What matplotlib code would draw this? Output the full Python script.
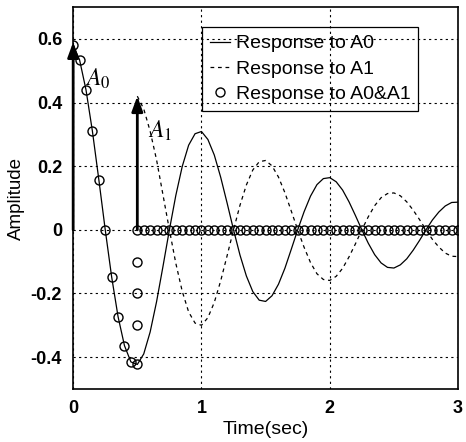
import numpy as np
import matplotlib
matplotlib.use("Agg")
import matplotlib.pyplot as plt

plt.rcParams['font.family'] = ['Liberation Sans', 'DejaVu Sans']
plt.rcParams['mathtext.fontset'] = 'stix'

# sample times (sec), 0.05 s step
t_a0 = [0.00, 0.05, 0.10, 0.15, 0.20, 0.25, 0.30, 0.35, 0.40, 0.45,
        0.50, 0.55, 0.60, 0.65, 0.70, 0.75, 0.80, 0.85, 0.90, 0.95,
        1.00, 1.05, 1.10, 1.15, 1.20, 1.25, 1.30, 1.35, 1.40, 1.45,
        1.50, 1.55, 1.60, 1.65, 1.70, 1.75, 1.80, 1.85, 1.90, 1.95,
        2.00, 2.05, 2.10, 2.15, 2.20, 2.25, 2.30, 2.35, 2.40, 2.45,
        2.50, 2.55, 2.60, 2.65, 2.70, 2.75, 2.80, 2.85, 2.90, 2.95, 3.00]
# response to A0
y_a0 = [0.580, 0.534, 0.440, 0.310, 0.158, 0.000, -0.148, -0.273, -0.364, -0.415,
        -0.423, -0.390, -0.321, -0.226, -0.115, 0.000, 0.108, 0.199, 0.266, 0.302,
        0.309, 0.284, 0.235, 0.165, 0.084, 0.000, -0.079, -0.145, -0.194, -0.221,
        -0.225, -0.207, -0.171, -0.121, -0.061, 0.000, 0.057, 0.106, 0.142, 0.161,
        0.164, 0.151, 0.125, 0.088, 0.045, 0.000, -0.042, -0.078, -0.104, -0.118,
        -0.120, -0.110, -0.091, -0.064, -0.033, 0.000, 0.031, 0.056, 0.075, 0.086, 0.087]

# response to A1 (starts at 0.5 s)
t_a1 = t_a0[10:]
y_a1 = [0.420, 0.380, 0.310, 0.220, 0.110, 0.000, -0.105, -0.193, -0.258, -0.293,
        -0.300, -0.276, -0.228, -0.160, -0.081, 0.000, 0.077, 0.141, 0.188, 0.214,
        0.218, 0.201, 0.166, 0.117, 0.059, 0.000, -0.055, -0.103, -0.138, -0.156,
        -0.159, -0.146, -0.121, -0.085, -0.044, 0.000, 0.041, 0.076, 0.101, 0.114,
        0.116, 0.107, 0.088, 0.062, 0.032, 0.000, -0.030, -0.054, -0.073, -0.083, -0.084]

# response to A0&A1 (circles)
t_sum = t_a0[:11] + [0.50, 0.50, 0.50, 0.50] + t_a0[11:]
y_sum = [0.580, 0.534, 0.440, 0.310, 0.158, 0.000, -0.148, -0.273, -0.364, -0.415,
         -0.423, -0.300, -0.200, -0.100, 0.000] + [0.0] * 50

# impulses
imp_t = [0.0, 0.5]
imp_y = [0.59, 0.42]
imp_lbl = ['$A_0$', '$A_1$']
imp_lbl_pos = [(0.09, 0.475), (0.58, 0.31)]

fig = plt.figure(figsize=(4.66, 4.42), dpi=100)
ax = fig.add_axes([0.157, 0.12, 0.826, 0.864])

ax.plot(t_a0, y_a0, color='black', lw=0.9, label='Response to A0')
ax.plot(t_a1, y_a1, color='black', lw=0.9, linestyle=(0, (3, 3)), label='Response to A1')
ax.plot(t_sum, y_sum, linestyle='none', marker='o', markersize=6.5, markerfacecolor='none',
        markeredgecolor='black', markeredgewidth=1.0, label='Response to A0&A1', zorder=3)

for x, y, s, p in zip(imp_t, imp_y, imp_lbl, imp_lbl_pos):
    ax.annotate('', xy=(x, y), xytext=(x, 0),
                arrowprops=dict(arrowstyle='-|>,head_length=0.6,head_width=0.22',
                                color='black', lw=2, mutation_scale=15,
                                shrinkA=0, shrinkB=0),
                annotation_clip=False)
    ax.text(p[0], p[1], s, fontsize=17, ha='left', va='center')

ax.set_xlim(0, 3)
ax.set_ylim(-0.5, 0.7)
ax.set_xticks([0, 1, 2, 3])
ax.set_yticks([-0.4, -0.2, 0, 0.2, 0.4, 0.6])
ax.set_xticklabels(['0', '1', '2', '3'], fontweight='bold', fontsize=13)
ax.set_yticklabels(['-0.4', '-0.2', '0', '0.2', '0.4', '0.6'], fontweight='bold', fontsize=13)
ax.tick_params(length=0, pad=8)
ax.grid(True, color='black', linestyle=(0, (2, 3)), linewidth=0.8)
for sp in ax.spines.values():
    sp.set_linewidth(1.2)

ax.set_xlabel('Time(sec)', fontsize=14, labelpad=3)
ax.set_ylabel('Amplitude', fontsize=13.5, labelpad=4)

leg = ax.legend(loc='upper right', bbox_to_anchor=(0.896, 0.948), borderaxespad=0,
                fontsize=14, frameon=True, fancybox=False,
                facecolor='none', edgecolor='black', handlelength=1.0, handletextpad=0.3,
                labelspacing=0.4, borderpad=0.4)
leg.get_frame().set_linewidth(0.9)
leg.get_frame().set_alpha(None)

fig.savefig('out.png', dpi=100)
